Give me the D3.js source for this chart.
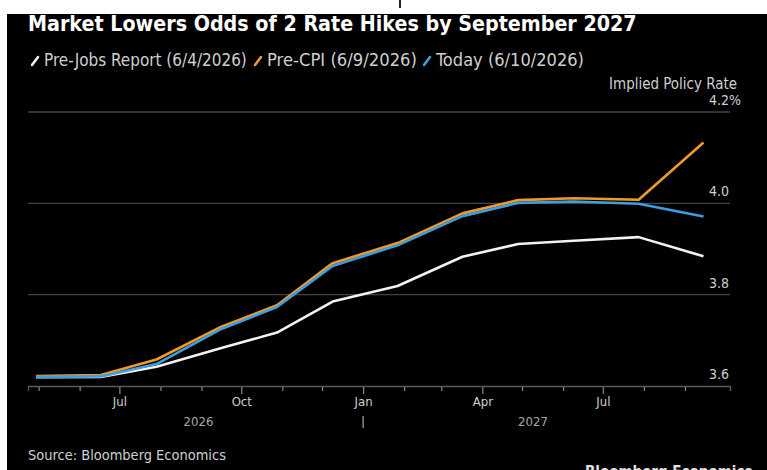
<!DOCTYPE html>
<html><head><meta charset="utf-8">
<script src="https://cdn.jsdelivr.net/npm/d3@7"></script>
<style>html,body{margin:0;padding:0;background:#fff;overflow:hidden}svg{display:block}</style>
</head><body>
<script>
// ---- data ----
const dates = ["2026-04-29","2026-06-17","2026-07-29","2026-09-16","2026-10-28","2026-12-09",
               "2027-01-27","2027-03-17","2027-04-28","2027-06-09","2027-07-28","2027-09-15"];
const preJobs = [3.619,3.620,3.642,3.683,3.717,3.785,3.819,3.883,3.911,3.918,3.926,3.884];
const preCPI  = [3.622,3.624,3.658,3.730,3.777,3.869,3.913,3.978,4.007,4.011,4.008,4.133];
const today   = [3.620,3.621,3.648,3.725,3.773,3.863,3.908,3.972,4.001,4.004,3.999,3.971];
const seriesNames = ["Pre-Jobs Report (6/4/2026)","Pre-CPI (6/9/2026)","Today (6/10/2026)"];
const seriesColors = ["#f2f2f2","#f09a28","#3d9ee0"];
const yTicks = [3.6,3.8,4.0,4.2];
const yTickLabels = ["3.6","3.8","4.0","4.2%"];
const monthTicks = ["2026-05-01","2026-06-01","2026-07-01","2026-08-01","2026-09-01","2026-10-01","2026-11-01","2026-12-01",
                    "2027-01-01","2027-02-01","2027-03-01","2027-04-01","2027-05-01","2027-06-01","2027-07-01","2027-08-01","2027-09-01"];
const monthNames = ["Jan","Feb","Mar","Apr","May","Jun","Jul","Aug","Sep","Oct","Nov","Dec"];
const years = ["2026","2027"];
const title = "Market Lowers Odds of 2 Rate Hikes by September 2027";
const yTitle = "Implied Policy Rate";
const source = "Source: Bloomberg Economics";

const parse = s => { const [y,m,d] = s.split("-").map(Number); return new Date(Date.UTC(y,m-1,d)); };
const W = 767, H = 470;
const FONT = "'DejaVu Sans Condensed','DejaVu Sans',sans-serif";

const svg = d3.select("body").append("svg").attr("width",W).attr("height",H);
svg.append("rect").attr("x",0).attr("y",0).attr("width",W).attr("height",H).attr("fill","#fff");
svg.append("rect").attr("x",7).attr("y",14).attr("width",W-7).attr("height",H-14).attr("fill","#000");
svg.append("rect").attr("x",399).attr("y",0).attr("width",2).attr("height",8).attr("fill","#222");

const x = d3.scaleUtc().domain([parse("2026-04-23"), parse("2027-10-05")]).range([28,730]);
const y = d3.scaleLinear().domain([3.6,4.2]).range([386,112]);

function fitText(sel, width){
  const n = sel.node();
  const fs = parseFloat(sel.attr("font-size"));
  const w = n.getComputedTextLength();
  if (w > 0) sel.attr("font-size", (fs*width/w).toFixed(2));
  return sel;
}

// title
fitText(svg.append("text").attr("x",28).attr("y",31).attr("fill","#fff")
  .attr("font-family",FONT).attr("font-weight","bold").attr("font-size",20).text(title), 609);

// legend
const legX = [44,267,436], legW = [203,150,148];
seriesNames.forEach((nm,i)=>{
  svg.append("line").attr("x1",legX[i]-12).attr("y1",65).attr("x2",legX[i]-6).attr("y2",57)
    .attr("stroke",seriesColors[i]).attr("stroke-width",2.6).attr("stroke-linecap","round");
  fitText(svg.append("text").attr("x",legX[i]).attr("y",65.5).attr("fill","#cfcfcf")
    .attr("font-family",FONT).attr("font-size",14).text(nm), legW[i]);
});

// gridlines
svg.append("g").selectAll("line").data(yTicks.slice(1)).join("line")
  .attr("x1",28).attr("x2",730).attr("y1",d=>y(d)).attr("y2",d=>y(d))
  .attr("stroke","#444").attr("stroke-width",1.3);

// y labels
fitText(svg.append("text").attr("x",737).attr("y",89).attr("text-anchor","end").attr("fill","#cfcfcf")
  .attr("font-family",FONT).attr("font-size",13).text(yTitle), 128);
svg.append("g").selectAll("text").data(yTicks).join("text")
  .attr("x",729).attr("y",d=>y(d)-7).attr("fill","#cfcfcf").attr("font-family",FONT).attr("font-size",14)
  .attr("text-anchor","start")
  .text((d,i)=>yTickLabels[i])
  .each(function(d,i){ // right-align numeric part at x=729
    const num = yTickLabels[i].replace("%","");
    const t = d3.select(this);
    const tmp = svg.append("text").attr("font-family",FONT).attr("font-size",14).text(num);
    const w = tmp.node().getComputedTextLength(); tmp.remove();
    t.attr("x",729 - w);
  });

// x axis
const tickDates = monthTicks.map(parse);
const isMajor = d => [0,3,6,9].includes(d.getUTCMonth());
const axis = d3.axisBottom(x).tickValues(tickDates).tickSizeOuter(0).tickSize(5)
  .tickFormat(d => [0,3,6,9].includes(d.getUTCMonth()) ? monthNames[d.getUTCMonth()] : "");
const gx = svg.append("g").attr("transform","translate(0,386)").call(axis);
gx.select(".domain").attr("stroke","#5a5a5a").attr("stroke-width",1.3);
gx.selectAll(".tick line").attr("stroke","#8a8a8a").attr("stroke-width",1.2)
  .attr("y1",1).attr("y2",d=>isMajor(d)?8:5);
gx.selectAll(".tick text").attr("fill","#cfcfcf").attr("font-family",FONT).attr("font-size",13).attr("y",11);

// year labels
const yearX = [198.5,533];
years.forEach((yr,i)=>{
  svg.append("text").attr("x",yearX[i]).attr("y",426).attr("text-anchor","middle").attr("fill","#a8a8a8")
    .attr("font-family",FONT).attr("font-size",13).text(yr);
});
svg.append("line").attr("x1",x(parse("2027-01-01"))).attr("x2",x(parse("2027-01-01")))
  .attr("y1",416).attr("y2",428).attr("stroke","#a8a8a8").attr("stroke-width",1.2);

// lines
const all = [preJobs, preCPI, today];
const line = d3.line().x((d,i)=>x(parse(dates[i]))).y(d=>y(d));
all.forEach((s,i)=>{
  svg.append("path").datum(s).attr("d",line).attr("fill","none")
    .attr("stroke",seriesColors[i]).attr("stroke-width",2.6).attr("stroke-linejoin","round");
});

// source
fitText(svg.append("text").attr("x",28).attr("y",460).attr("fill","#cfcfcf")
  .attr("font-family",FONT).attr("font-size",13).text(source), 198);
svg.append("text").attr("x",585).attr("y",477).attr("fill","#e0e0e0")
  .attr("font-family",FONT).attr("font-weight","bold").attr("font-size",15).text("Bloomberg Economics");
</script>
</body></html>
